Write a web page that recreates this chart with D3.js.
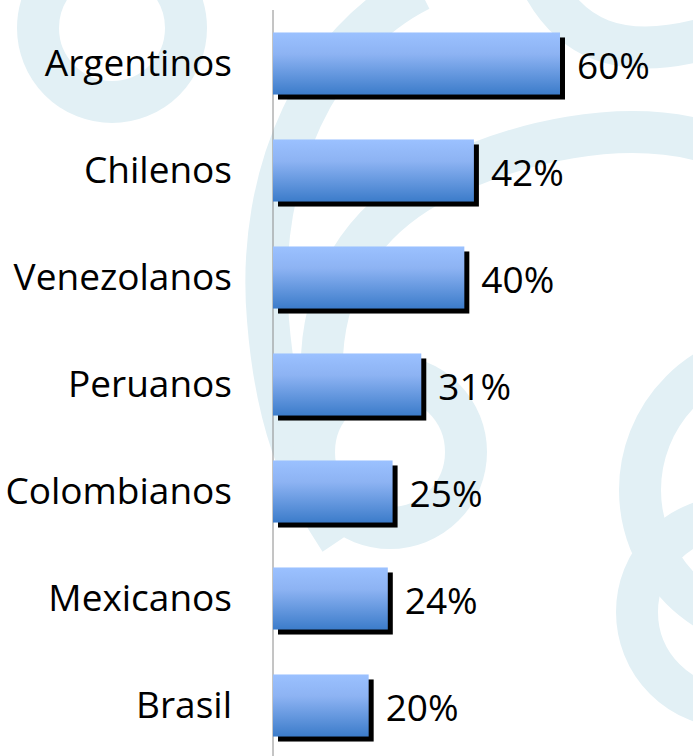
<!DOCTYPE html>
<html lang="es">
<head>
  <meta charset="UTF-8">
  <title>Nacionalidades</title>
  <style>
    body { margin: 0; background: #fff; }
    svg { display: block; }
    .cat { font-family: "Open Sans", sans-serif; font-size: 37px; fill: #000; }
    .val { font-family: "Open Sans", sans-serif; font-size: 37px; fill: #000; }
  </style>
</head>
<body>
  <div id="chart"></div>
  <script src="https://d3js.org/d3.v7.min.js"></script>
  <script>
    const categories = ["Argentinos", "Chilenos", "Venezolanos", "Peruanos", "Colombianos", "Mexicanos", "Brasil"];
    const values = [60, 42, 40, 31, 25, 24, 20];
    const valueLabels = ["60%", "42%", "40%", "31%", "25%", "24%", "20%"];

    const width = 693, height = 756;
    const axisX = 273;

    const data = categories.map((c, i) => ({ name: c, value: values[i], label: valueLabels[i] }));

    const svg = d3.select("#chart").append("svg")
      .attr("width", width)
      .attr("height", height);

    // gradient for the bars
    const defs = svg.append("defs");
    const grad = defs.append("linearGradient")
      .attr("id", "barGrad")
      .attr("x1", 0).attr("y1", 0).attr("x2", 0).attr("y2", 1);
    grad.append("stop").attr("offset", "0%").attr("stop-color", "#9bc1ff");
    grad.append("stop").attr("offset", "35%").attr("stop-color", "#8db3f3");
    grad.append("stop").attr("offset", "100%").attr("stop-color", "#3c7cca");

    // faint swirl watermark behind the chart
    const bg = svg.append("g")
      .attr("fill", "none")
      .attr("stroke", "#e2f0f5")
      .attr("stroke-width", 42);
    bg.append("circle").attr("cx", 112).attr("cy", 28).attr("r", 74);
    bg.append("path").attr("d", "M 420 -10 C 320 40 255 170 268 320 C 276 420 300 480 340 540");
    bg.append("path").attr("d", "M 700 140 C 620 120 520 140 440 180 C 360 220 318 290 322 380");
    bg.append("circle").attr("cx", 390).attr("cy", 452).attr("r", 76);
    bg.append("path").attr("d", "M 540 -20 C 570 40 620 60 700 40");
    bg.append("circle").attr("cx", 780).attr("cy", 490).attr("r", 140);
    bg.append("circle").attr("cx", 732).attr("cy", 612).attr("r", 95);

    const x = d3.scaleLinear()
      .domain([0, 60])
      .range([axisX, 560]);

    const y = d3.scaleBand()
      .domain(categories)
      .range([10, 759])
      .paddingInner(0.42)
      .paddingOuter(0.21);

    // axis line
    svg.append("line")
      .attr("x1", axisX).attr("x2", axisX)
      .attr("y1", 10).attr("y2", height)
      .attr("stroke", "#8a8a8a")
      .attr("stroke-width", 1);

    // shadows
    svg.selectAll(".shadow")
      .data(data)
      .enter()
      .append("rect")
      .attr("class", "shadow")
      .attr("x", x(0) + 5)
      .attr("y", d => y(d.name) + 5)
      .attr("width", d => x(d.value) - x(0))
      .attr("height", y.bandwidth())
      .attr("fill", "#000");

    // bars
    svg.selectAll(".bar")
      .data(data)
      .enter()
      .append("rect")
      .attr("class", "bar")
      .attr("x", x(0))
      .attr("y", d => y(d.name))
      .attr("width", d => x(d.value) - x(0))
      .attr("height", y.bandwidth())
      .attr("fill", "url(#barGrad)");

    // category labels
    svg.selectAll(".cat")
      .data(data)
      .enter()
      .append("text")
      .attr("class", "cat")
      .attr("x", 232)
      .attr("y", d => y(d.name) + y.bandwidth() / 2 + 12)
      .attr("text-anchor", "end")
      .text(d => d.name);

    // value labels
    svg.selectAll(".val")
      .data(data)
      .enter()
      .append("text")
      .attr("class", "val")
      .attr("x", d => x(d.value) + 17)
      .attr("y", d => y(d.name) + y.bandwidth() / 2 + 15)
      .text(d => d.label);
  </script>
</body>
</html>
